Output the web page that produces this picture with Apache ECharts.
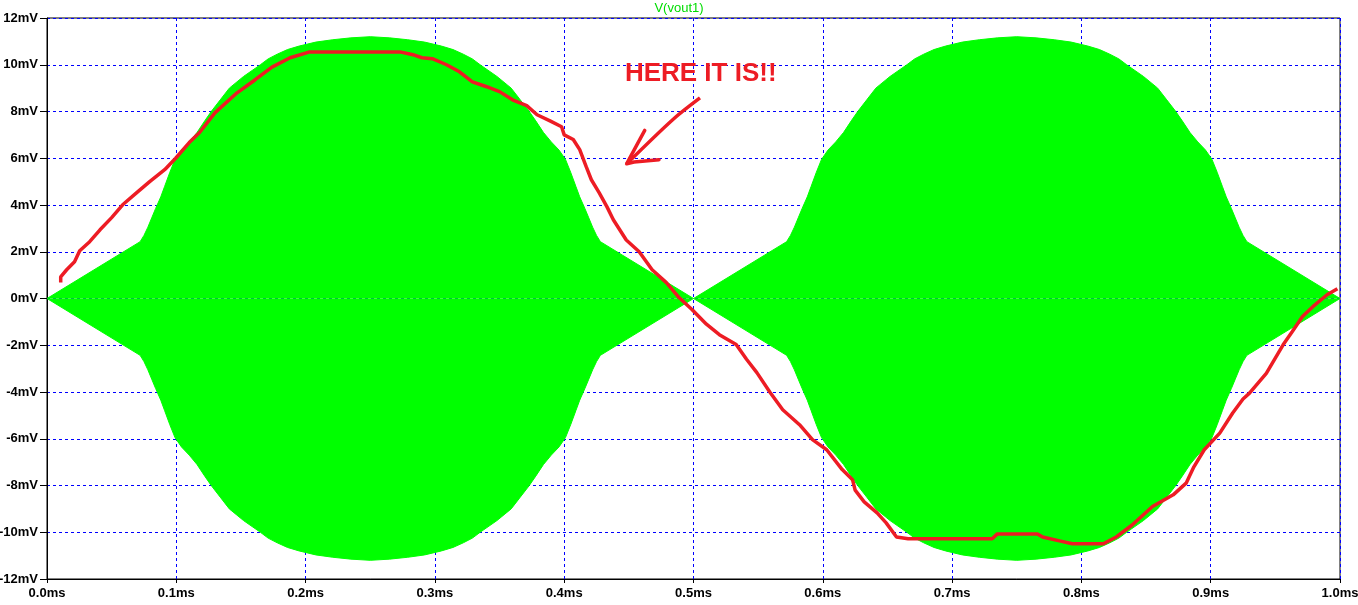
<!DOCTYPE html>
<html><head><meta charset="utf-8">
<script src="https://cdn.jsdelivr.net/npm/echarts@6/dist/echarts.min.js"></script>
<style>html,body{margin:0;padding:0;background:#fff}#c{width:1358px;height:605px}</style>
</head><body><div id="c"></div>
<script>
// ---- data (ms, mV) ----
const title = 'V(vout1)';
const xTicks = [0,0.1,0.2,0.3,0.4,0.5,0.6,0.7,0.8,0.9,1.0];
const yTicks = [-12,-10,-8,-6,-4,-2,0,2,4,6,8,10,12];
const upperEnv = [[0,0],[0.072,2.43],[0.075,2.7],[0.078,3.05],[0.081,3.45],[0.084,3.85],[0.088,4.35],[0.091,4.8],[0.095,5.4],[0.099,5.95],[0.104,6.35],[0.110,6.7],[0.116,7.1],[0.122,7.6],[0.127,8.0],[0.134,8.5],[0.141,9.0],[0.152,9.5],[0.165,10.0],[0.171,10.25],[0.178,10.45],[0.186,10.65],[0.195,10.8],[0.208,10.97],[0.221,11.07],[0.235,11.15],[0.25,11.2],[0.265,11.15],[0.279,11.07],[0.292,10.97],[0.305,10.8],[0.314,10.65],[0.322,10.45],[0.329,10.25],[0.335,10.0],[0.348,9.5],[0.359,9.0],[0.366,8.5],[0.373,8.0],[0.378,7.6],[0.384,7.1],[0.390,6.7],[0.396,6.35],[0.401,5.95],[0.405,5.4],[0.409,4.8],[0.412,4.35],[0.416,3.85],[0.419,3.45],[0.422,3.05],[0.425,2.7],[0.428,2.43],[0.5,0],
 [0.572,2.43],[0.575,2.7],[0.578,3.05],[0.581,3.45],[0.584,3.85],[0.588,4.35],[0.591,4.8],[0.595,5.4],[0.599,5.95],[0.604,6.35],[0.610,6.7],[0.616,7.1],[0.622,7.6],[0.627,8.0],[0.634,8.5],[0.641,9.0],[0.652,9.5],[0.665,10.0],[0.671,10.25],[0.678,10.45],[0.686,10.65],[0.695,10.8],[0.708,10.97],[0.721,11.07],[0.735,11.15],[0.75,11.2],[0.765,11.15],[0.779,11.07],[0.792,10.97],[0.805,10.8],[0.814,10.65],[0.822,10.45],[0.829,10.25],[0.835,10.0],[0.848,9.5],[0.859,9.0],[0.866,8.5],[0.873,8.0],[0.878,7.6],[0.884,7.1],[0.890,6.7],[0.896,6.35],[0.901,5.95],[0.905,5.4],[0.909,4.8],[0.912,4.35],[0.916,3.85],[0.919,3.45],[0.922,3.05],[0.925,2.7],[0.928,2.43],[1.0,0]];
const lowerEnv = [[0,0],[0.072,-2.43],[0.075,-2.7],[0.078,-3.05],[0.081,-3.45],[0.084,-3.85],[0.088,-4.35],[0.091,-4.8],[0.095,-5.4],[0.099,-5.95],[0.104,-6.35],[0.110,-6.7],[0.116,-7.1],[0.122,-7.6],[0.127,-8.0],[0.134,-8.5],[0.141,-9.0],[0.152,-9.5],[0.165,-10.0],[0.171,-10.25],[0.178,-10.45],[0.186,-10.65],[0.195,-10.8],[0.208,-10.97],[0.221,-11.07],[0.235,-11.15],[0.25,-11.2],[0.265,-11.15],[0.279,-11.07],[0.292,-10.97],[0.305,-10.8],[0.314,-10.65],[0.322,-10.45],[0.329,-10.25],[0.335,-10.0],[0.348,-9.5],[0.359,-9.0],[0.366,-8.5],[0.373,-8.0],[0.378,-7.6],[0.384,-7.1],[0.390,-6.7],[0.396,-6.35],[0.401,-5.95],[0.405,-5.4],[0.409,-4.8],[0.412,-4.35],[0.416,-3.85],[0.419,-3.45],[0.422,-3.05],[0.425,-2.7],[0.428,-2.43],[0.5,0],
 [0.572,-2.43],[0.575,-2.7],[0.578,-3.05],[0.581,-3.45],[0.584,-3.85],[0.588,-4.35],[0.591,-4.8],[0.595,-5.4],[0.599,-5.95],[0.604,-6.35],[0.610,-6.7],[0.616,-7.1],[0.622,-7.6],[0.627,-8.0],[0.634,-8.5],[0.641,-9.0],[0.652,-9.5],[0.665,-10.0],[0.671,-10.25],[0.678,-10.45],[0.686,-10.65],[0.695,-10.8],[0.708,-10.97],[0.721,-11.07],[0.735,-11.15],[0.75,-11.2],[0.765,-11.15],[0.779,-11.07],[0.792,-10.97],[0.805,-10.8],[0.814,-10.65],[0.822,-10.45],[0.829,-10.25],[0.835,-10.0],[0.848,-9.5],[0.859,-9.0],[0.866,-8.5],[0.873,-8.0],[0.878,-7.6],[0.884,-7.1],[0.890,-6.7],[0.896,-6.35],[0.901,-5.95],[0.905,-5.4],[0.909,-4.8],[0.912,-4.35],[0.916,-3.85],[0.919,-3.45],[0.922,-3.05],[0.925,-2.7],[0.928,-2.43],[1.0,0]];
const redTrace = [[0.0106,0.68],[0.0106,0.93],[0.0152,1.23],[0.0213,1.57],[0.0253,2.04],[0.033,2.43],[0.041,2.94],[0.050,3.46],[0.0585,4.01],[0.0694,4.53],[0.0794,5.0],[0.091,5.51],[0.0995,6.0],[0.11,6.67],[0.118,7.1],[0.13,7.95],[0.147,8.8],[0.161,9.36],[0.174,9.9],[0.188,10.3],[0.2,10.5],[0.203,10.55],[0.273,10.55],[0.283,10.43],[0.29,10.3],[0.298,10.26],[0.309,10.0],[0.319,9.7],[0.329,9.27],[0.34,9.06],[0.35,8.85],[0.36,8.5],[0.371,8.25],[0.379,7.86],[0.389,7.6],[0.398,7.35],[0.4,7.0],[0.407,6.8],[0.412,6.37],[0.417,5.64],[0.421,5.08],[0.427,4.53],[0.433,3.93],[0.438,3.37],[0.448,2.5],[0.458,2.0],[0.468,1.23],[0.479,0.68],[0.489,0.03],[0.499,-0.48],[0.51,-1.1],[0.52,-1.55],[0.533,-1.97],[0.541,-2.6],[0.549,-3.17],[0.559,-4.0],[0.569,-4.76],[0.582,-5.4],[0.592,-6.04],[0.603,-6.47],[0.615,-7.32],[0.623,-7.75],[0.625,-8.2],[0.632,-8.7],[0.642,-9.17],[0.649,-9.6],[0.657,-10.2],[0.666,-10.28],[0.731,-10.28],[0.735,-10.07],[0.766,-10.07],[0.77,-10.2],[0.783,-10.37],[0.793,-10.49],[0.817,-10.49],[0.827,-10.2],[0.839,-9.7],[0.855,-8.9],[0.871,-8.4],[0.881,-7.9],[0.887,-7.2],[0.895,-6.47],[0.907,-5.76],[0.917,-4.9],[0.925,-4.3],[0.93,-4.05],[0.943,-3.2],[0.956,-1.98],[0.963,-1.42],[0.971,-0.77],[0.979,-0.35],[0.99,0.16],[0.998,0.42]];
// annotation (data coords)
const noteText = 'HERE IT IS!!';
const notePos = [0.5056, 9.61];
const arrowShaft = [[0.505,8.58],[0.4839,7.65],[0.4483,5.76]];
const arrowHead = [[0.4623,7.19],[0.4560,6.55],[0.4483,5.76],[0.4540,5.84],[0.4733,5.94]];

const RED = '#ed1c24';
const chart = echarts.init(document.getElementById('c'), null, {renderer:'canvas'});
const axisFont = {fontFamily:'Liberation Sans, Arial, sans-serif', fontWeight:'bold', fontSize:13, color:'#000'};
chart.setOption({
  animation:false,
  backgroundColor:'#fff',
  title:{text:title, left:'center', top:2, padding:0, textStyle:{color:'#00dd00', fontSize:13, fontWeight:'normal', fontFamily:'Liberation Sans, Arial, sans-serif'}},
  grid:{left:47, right:18, top:18, bottom:26, show:true, borderColor:'#000', borderWidth:1, backgroundColor:'transparent', containLabel:false, outerBoundsMode:'none'},
  xAxis:{type:'value', min:xTicks[0], max:xTicks[xTicks.length-1], interval:0.1,
    axisLine:{onZero:false, lineStyle:{color:'#000',width:1}}, axisTick:{show:true,length:4,lineStyle:{color:'#000'}},
    axisLabel:Object.assign({margin:8, formatter:v=>v.toFixed(1)+'ms'}, axisFont),
    splitLine:{show:true, lineStyle:{color:'#0000ff', type:[3,3], width:1}}},
  yAxis:{type:'value', min:yTicks[0], max:yTicks[yTicks.length-1], interval:2,
    axisLine:{show:true,onZero:false,lineStyle:{color:'#000',width:1}}, axisTick:{show:true,length:7,lineStyle:{color:'#000'}},
    axisLabel:Object.assign({margin:9, formatter:v=>v+'mV'}, axisFont),
    splitLine:{show:true, lineStyle:{color:'#0000ff', type:[3,3], width:1}}},
  series:[
    {type:'line', data:upperEnv, symbol:'none', lineStyle:{color:'#00ff00', width:1}, areaStyle:{color:'#00ff00', opacity:1, origin:0}, z:2},
    {type:'line', data:lowerEnv, symbol:'none', lineStyle:{color:'#00ff00', width:1}, areaStyle:{color:'#00ff00', opacity:1, origin:0}, z:2},
    {type:'line', data:redTrace, symbol:'none', lineStyle:{color:RED, width:3.5}, z:5},
    {type:'line', data:arrowShaft, symbol:'none', smooth:0.3, lineStyle:{color:RED, width:3.5}, z:5},
    {type:'line', data:arrowHead, symbol:'none', lineStyle:{color:RED, width:3.5, join:'round', cap:'round'}, z:5}
  ]
});
const p = chart.convertToPixel({gridIndex:0}, notePos);
chart.setOption({graphic:[{type:'text', x:p[0], y:p[1], z:10, style:{text:noteText, fill:RED, font:'bold 26px "Liberation Sans", Arial, sans-serif', textAlign:'center', textVerticalAlign:'middle'}}]});
</script></body></html>
